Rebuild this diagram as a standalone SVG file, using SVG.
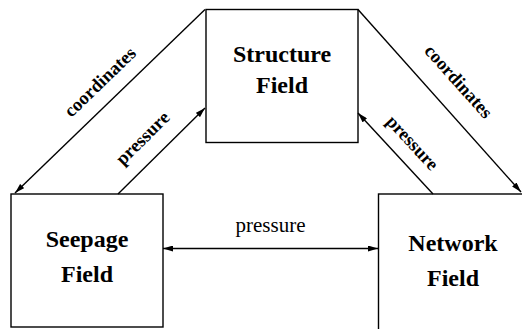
<svg xmlns="http://www.w3.org/2000/svg" width="522" height="329" viewBox="0 0 522 329">
<style>
.box{fill:#fff;stroke:#000;stroke-width:1.4}
.node{font-family:"Liberation Serif","DejaVu Serif",serif;font-weight:bold;font-size:24px;text-anchor:middle;fill:#000}
.lbl{font-family:"Liberation Serif","DejaVu Serif",serif;font-weight:bold;font-size:18.5px;text-anchor:middle;fill:#000}
.hl{font-family:"Liberation Serif","DejaVu Serif",serif;font-size:21px;text-anchor:middle;fill:#000}
.edge{fill:none;stroke:#000;stroke-width:1.4}
</style>
<defs>
<marker id="ah" markerUnits="userSpaceOnUse" markerWidth="10" markerHeight="6" refX="10" refY="3" orient="auto-start-reverse">
<path d="M0,0 L10,3 L0,6 z" fill="#000"/>
</marker>
</defs>
<rect width="522" height="329" fill="#fff"/>
<g id="structure">
<rect class="box" x="206" y="9.5" width="152" height="133"/>
<text class="node" x="282" y="62">Structure</text>
<text class="node" x="282" y="93">Field</text>
</g>
<g id="seepage">
<rect class="box" x="11" y="194" width="152" height="133"/>
<text class="node" x="87" y="247">Seepage</text>
<text class="node" x="87" y="282">Field</text>
</g>
<g id="network">
<rect class="box" x="378.5" y="194" width="160" height="150"/>
<text class="node" x="453" y="251">Network</text>
<text class="node" x="453" y="286">Field</text>
</g>
<g id="connectors">
<path class="edge" d="M205,9.5 L15,193" marker-end="url(#ah)"/>
<path class="edge" d="M118,194 L205,108" marker-end="url(#ah)"/>
<path class="edge" d="M358,9.5 L521,192" marker-end="url(#ah)"/>
<path class="edge" d="M433,194 L358,113" marker-end="url(#ah)"/>
<path class="edge" d="M163,248.5 L378,248.5" marker-start="url(#ah)" marker-end="url(#ah)"/>
<text class="lbl" transform="translate(100,82) rotate(-44)" y="6">coordinates</text>
<text class="lbl" transform="translate(145.5,141) rotate(-44.7)" y="2">pressure</text>
<text class="lbl" transform="translate(458.5,81.5) rotate(48.2)" y="6">coordinates</text>
<text class="lbl" transform="translate(409.5,145.5) rotate(47)" y="2">pressure</text>
<text class="hl" x="270.5" y="232">pressure</text>
</g>
</svg>
